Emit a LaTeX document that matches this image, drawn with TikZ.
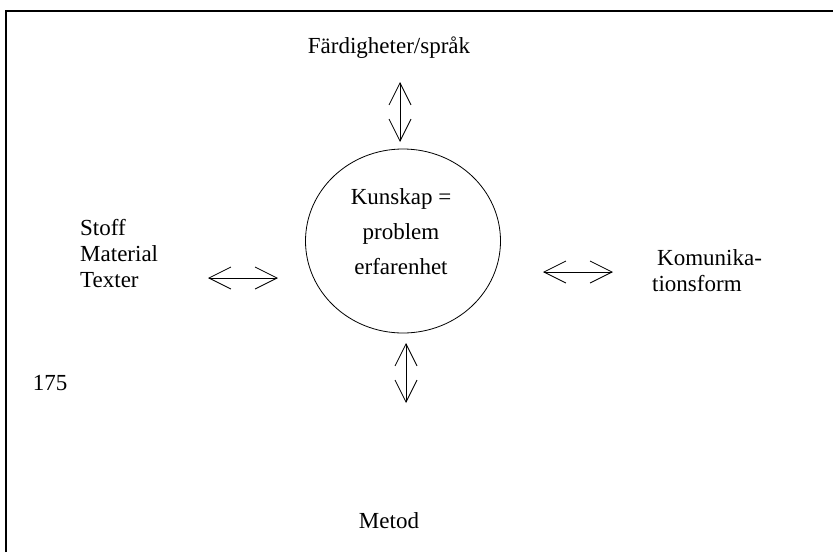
\documentclass[tikz,border=0pt]{standalone}
\usepackage{fontspec}
\setmainfont{Liberation Serif}
\usetikzlibrary{arrows.meta,shapes.geometric}

\begin{document}
\begin{tikzpicture}[x=1pt, y=-1pt]
    \tikzstyle{term} = [font=\fontsize{23}{26}\selectfont, inner sep=0pt, align=left]
    \tikzstyle{link} = [line width=0.8pt, {Straight Barb[length=22pt, width=22pt]}-{Straight Barb[length=22pt, width=22pt]}]

    \useasboundingbox (0,0) rectangle (833,552);

    % Frame
    \draw[line width=1.2pt] (6,552) -- (6,11) -- (833,11);

    % Centre
    \node[ellipse, draw, line width=0.8pt, minimum width=195pt, minimum height=184pt] (circ) at (403,241) {};
    \node[term, align=center, font=\fontsize{23}{35}\selectfont] (know) at (401,232) {Kunskap =\\ problem\\ erfarenhet};

    % Surrounding terms
    \node[term] (skills) at (389,48) {Färdigheter/språk};
    \node[term, anchor=west] (stuff) at (80,254) {Stoff\\ Material\\ Texter};
    \node[term, anchor=west] (comm) at (652,271) {\hspace{5pt}Komunika-\\ tionsform};
    \node[term] (method) at (389,521) {Metod};
    \node[term] (page) at (50,383) {175};

    % Arrows
    \coordinate (t1) at (400,82);  \coordinate (t2) at (400,142);
    \coordinate (b1) at (406,343); \coordinate (b2) at (406,403);
    \coordinate (l1) at (208,278); \coordinate (l2) at (278,278);
    \coordinate (r1) at (543,272); \coordinate (r2) at (613,272);
    \draw[link] (t1) -- (t2);
    \draw[link] (b1) -- (b2);
    \draw[link] (l1) -- (l2);
    \draw[link] (r1) -- (r2);

\end{tikzpicture}
\end{document}
